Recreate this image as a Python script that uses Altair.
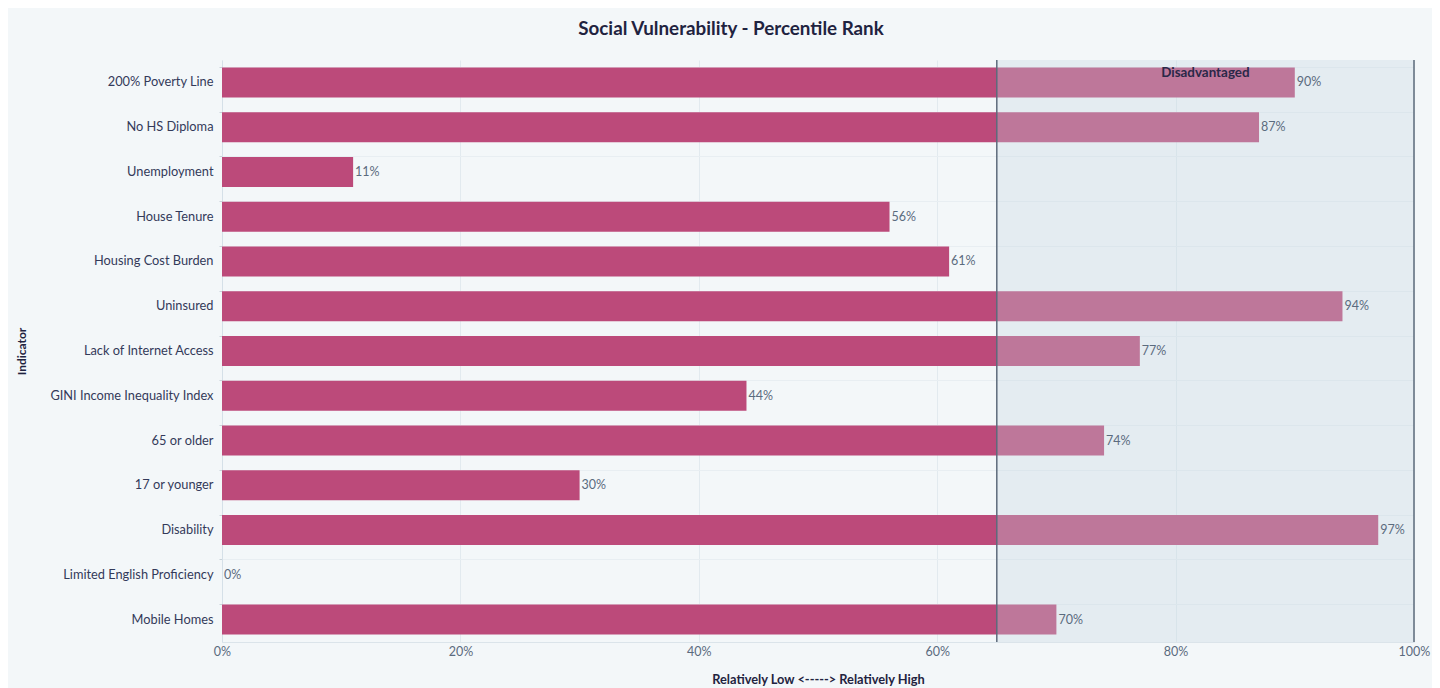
import altair as alt
import pandas as pd

indicators = [
    "200% Poverty Line", "No HS Diploma", "Unemployment", "House Tenure",
    "Housing Cost Burden", "Uninsured", "Lack of Internet Access",
    "GINI Income Inequality Index", "65 or older", "17 or younger",
    "Disability", "Limited English Proficiency", "Mobile Homes",
]
percentiles = [90, 87, 11, 56, 61, 94, 77, 44, 74, 30, 97, 0, 70]

zone_start = [65]
zone_end = [100]
zone_label = ["Disadvantaged"]
x_ticks = [0, 20, 40, 60, 80, 100]

df = pd.DataFrame({"Indicator": indicators, "Percentile": percentiles})
df["Label"] = [f"{v}%" for v in percentiles]
zone = pd.DataFrame({"start": zone_start, "end": zone_end, "label": zone_label})
zone["mid"] = (zone["start"] + zone["end"]) / 2
edges = pd.DataFrame({"edge": zone_start + zone_end})

FONT = "Lato"
BAR = "#bc4a7a"

x_scale = alt.Scale(domain=[0, 100], nice=False)
y_scale = alt.Scale(paddingInner=0.33, paddingOuter=0.165)

x_axis = alt.Axis(
    values=x_ticks, labelExpr="datum.value + '%'",
    title="Relatively Low <-----> Relatively High",
    titleFontWeight="bold", titleFontSize=12.8, titleColor="#1f2340",
    titlePadding=16, labelColor="#5b6b7e", labelFontSize=12.5,
    labelPadding=3, labelAlign="center", labelFlush=False,
    gridColor="#e2eaef", domainColor="#dbe4ea", ticks=False,
)
y_axis = alt.Axis(
    title="Indicator", titleFontWeight="bold", titleFontSize=12,
    titleColor="#1f2340", titleX=-194, titleY=291,
    labelColor="#333a5a", labelFontSize=12.8, labelPadding=6,
    domainColor="#d5e0e8", tickColor="#c9d3da", tickSize=3,
    grid=True, gridColor="#e8eef2", bandPosition=0,
)

bars = alt.Chart(df).mark_bar(color=BAR).encode(
    x=alt.X("Percentile:Q", scale=x_scale, axis=x_axis),
    y=alt.Y("Indicator:N", sort=indicators, scale=y_scale, axis=y_axis),
)

shade = alt.Chart(zone).mark_rect(color="#c3d8e1", opacity=0.32).encode(
    x=alt.X("start:Q", scale=x_scale),
    x2="end:Q",
)

rules = alt.Chart(edges).mark_rule(color="#5d6b7b", strokeWidth=1.5).encode(
    x=alt.X("edge:Q", scale=x_scale),
)

zone_text = alt.Chart(zone).mark_text(
    font=FONT, fontWeight="bold", fontSize=13.4, color="#2a2848",
    baseline="middle", align="center",
).encode(
    x=alt.X("mid:Q", scale=x_scale),
    y=alt.value(13),
    text="label:N",
)

labels = alt.Chart(df).mark_text(
    font=FONT, fontSize=12.5, color="#5b6b7e", align="left", dx=2,
    baseline="middle",
).encode(
    x=alt.X("Percentile:Q", scale=x_scale),
    y=alt.Y("Indicator:N", sort=indicators, scale=y_scale),
    text="Label:N",
)

chart = alt.layer(bars, shade, rules, zone_text, labels).properties(
    width=1192,
    height=582,
    background="#f3f7f9",
    padding={"left": 214, "top": 52, "right": 18, "bottom": 50},
    autosize=alt.AutoSizeParams(type="none"),
    title=alt.TitleParams(
        "Social Vulnerability - Percentile Rank", font=FONT, fontSize=18.8,
        fontWeight="bold", color="#1f2340", anchor="middle", dx=-87,
        offset=20,
    ),
).configure(font=FONT).configure_view(stroke=None, fill="#f3f7f9")

chart.save("out.html", embed_options={"renderer": "svg", "actions": False})
